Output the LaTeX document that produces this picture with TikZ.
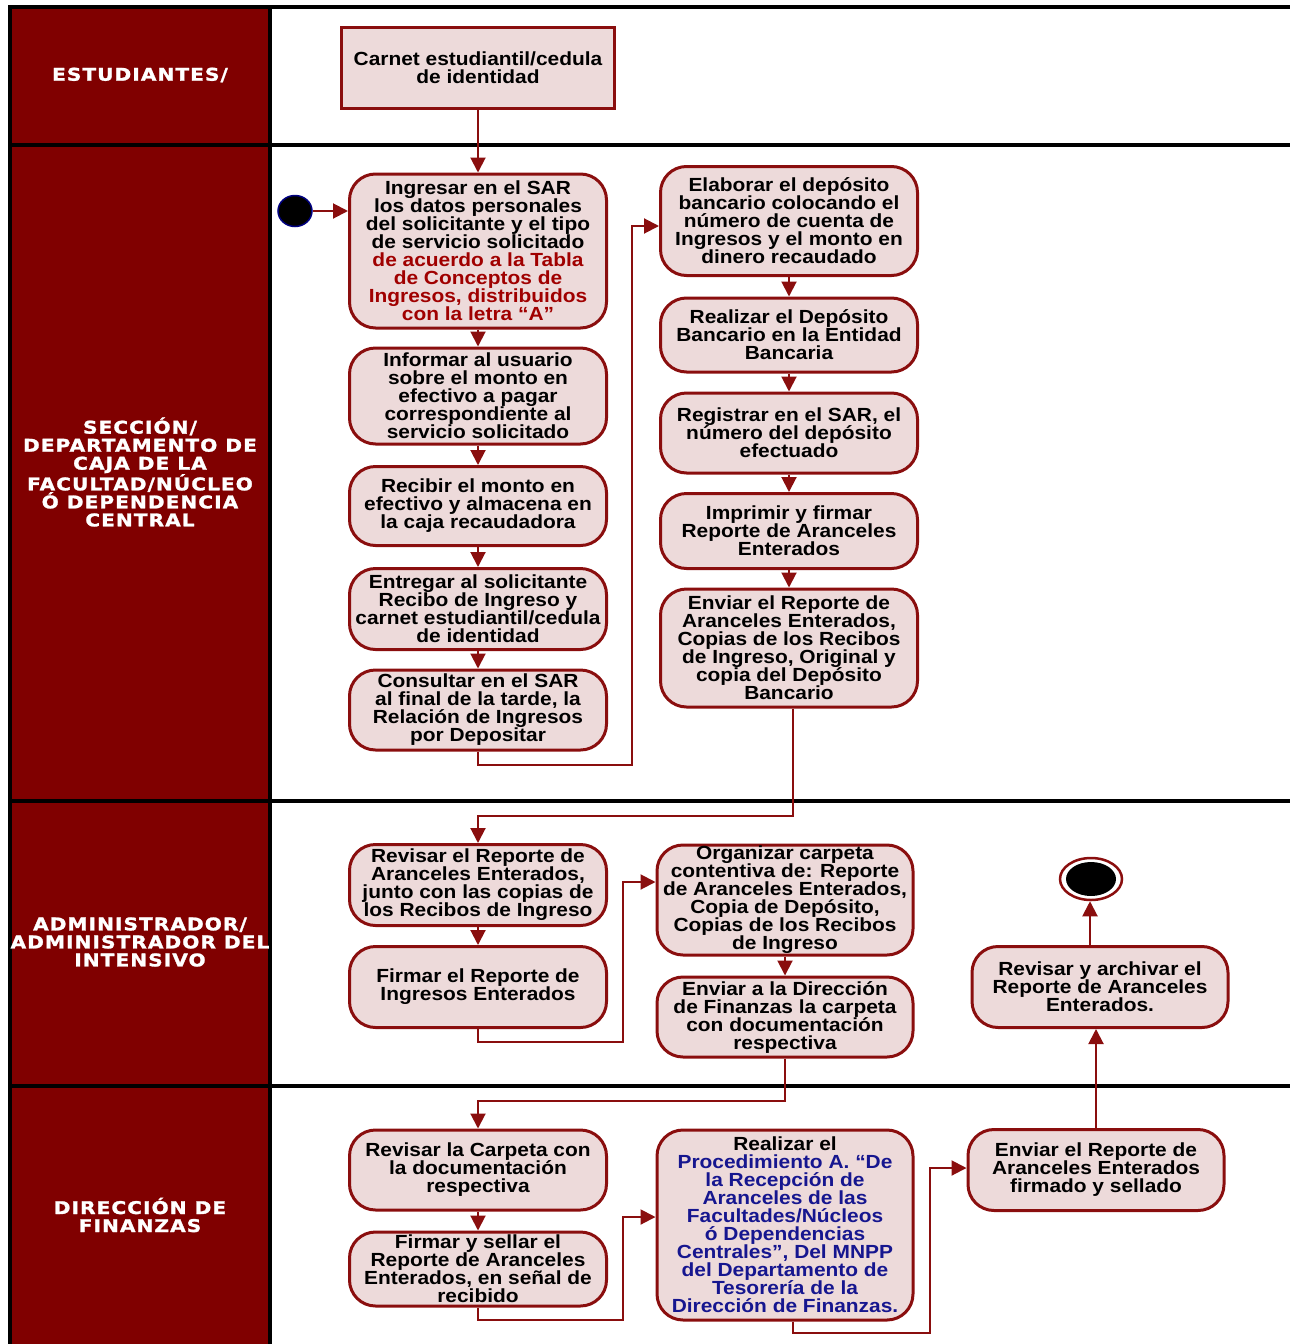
\documentclass[tikz,border=0pt]{standalone}
\usepackage{fontspec}
\setmainfont{Liberation Sans}[FakeStretch=1.1]
\newfontfamily\lanefont{DejaVu Sans}[LetterSpace=6,FakeStretch=1.15,FakeBold=1.5]
\usetikzlibrary{arrows.meta,calc,shapes.geometric}
\definecolor{lanered}{HTML}{800000}
\definecolor{boxred}{HTML}{8A0E0E}
\definecolor{boxfill}{HTML}{EDDADA}
\definecolor{txtred}{HTML}{A00000}
\definecolor{txtblue}{HTML}{16168F}
\definecolor{startblue}{HTML}{000080}
\begin{document}
\begin{tikzpicture}[x=1pt,y=-1pt,
  act/.style={draw=boxred, line width=3pt, fill=boxfill, rounded corners=26pt,
    align=center, inner sep=0pt, minimum width=257pt,
    font=\bfseries\fontsize{19}{18}\selectfont},
  objbox/.style={draw=boxred, line width=3pt, fill=boxfill,
    align=center, inner sep=0pt,
    font=\bfseries\fontsize{19}{18}\selectfont},
  lanelbl/.style={text=white, align=center, inner sep=0pt,
    font=\lanefont\bfseries\fontsize{17.5}{18}\selectfont},
  conn/.style={draw=boxred, line width=2pt, -{Triangle[width=15pt,length=15pt]}},
  frame/.style={draw=black, line width=3.5pt}
]
\useasboundingbox (0,0) rectangle (1290,1344);
% lanes
\fill[lanered] (10,7) rectangle (270,1344);
\draw[frame] (10,1344) -- (10,7) -- (1290,7);
\draw[frame] (270,7) -- (270,1344);
\draw[frame] (10,145) -- (1290,145);
\draw[frame] (10,801) -- (1290,801);
\draw[frame] (10,1086) -- (1290,1086);

\node[lanelbl] (l1) at (140,75) {ESTUDIANTES/};
\node[lanelbl] (l2) at (140,472) {SECCIÓN/\\DEPARTAMENTO DE\\CAJA DE LA\\FACULTAD/NÚCLEO\\Ó DEPENDENCIA\\CENTRAL};
\node[lanelbl] (l3) at (140,942) {ADMINISTRADOR/\\ADMINISTRADOR DEL\\INTENSIVO};
\node[lanelbl] (l4) at (140,1215) {DIRECCIÓN DE\\FINANZAS};

% student lane
\node[objbox, minimum width=273pt, minimum height=81pt] (obj) at (478,68)
  {Carnet estudiantil/cedula\\de identidad};

% caja lane
\node[ellipse, draw=startblue, line width=1.5pt, fill=black, minimum width=34pt, minimum height=31pt, inner sep=0pt] (start) at (295,211) {};
\node[act, minimum height=154pt] (n1) at (478,251)
  {Ingresar en el SAR\\los datos personales\\del solicitante y el tipo\\de servicio solicitado\\
   \textcolor{txtred}{de acuerdo a la Tabla}\\\textcolor{txtred}{de Conceptos de}\\
   \textcolor{txtred}{Ingresos, distribuidos}\\\textcolor{txtred}{con la letra “A”}};
\node[act, minimum height=96pt] (n2) at (478,396)
  {Informar al usuario\\sobre el monto en\\efectivo a pagar\\correspondiente al\\servicio solicitado};
\node[act, minimum height=79pt] (n3) at (478,506)
  {Recibir el monto en\\efectivo y almacena en\\la caja recaudadora};
\node[act, minimum height=81pt] (n4) at (478,609)
  {Entregar al solicitante\\Recibo de Ingreso y\\carnet estudiantil/cedula\\de identidad};
\node[act, minimum height=80pt] (n5) at (478,710)
  {Consultar en el SAR\\al final de la tarde, la\\Relación de Ingresos\\por Depositar};

\node[act, minimum height=109pt] (m1) at (789,221)
  {Elaborar el depósito\\bancario colocando el\\número de cuenta de\\Ingresos y el monto en\\dinero recaudado};
\node[act, minimum height=74pt] (m2) at (789,335)
  {Realizar el Depósito\\Bancario en la Entidad\\Bancaria};
\node[act, minimum height=80pt] (m3) at (789,433)
  {Registrar en el SAR, el\\número del depósito\\efectuado};
\node[act, minimum height=75pt] (m4) at (789,531)
  {Imprimir y firmar\\Reporte de Aranceles\\Enterados};
\node[act, minimum height=118pt] (m5) at (789,648)
  {Enviar el Reporte de\\Aranceles Enterados,\\Copias de los Recibos\\de Ingreso, Original y\\copia del Depósito\\Bancario};

% admin lane
\node[act, minimum height=81pt] (a1) at (478,885)
  {Revisar el Reporte de\\Aranceles Enterados,\\junto con las copias de\\los Recibos de Ingreso};
\node[act, minimum height=81pt] (a2) at (478,987)
  {Firmar el Reporte de\\Ingresos Enterados};
\node[act, minimum width=256pt, minimum height=110pt] (a3) at (785,900)
  {Organizar carpeta\\contentiva de: Reporte\\de Aranceles Enterados,\\Copia de Depósito,\\Copias de los Recibos\\de Ingreso};
\node[act, minimum width=256pt, minimum height=80pt] (a4) at (785,1017)
  {Enviar a la Dirección\\de Finanzas la carpeta\\con documentación\\respectiva};
\node[act, minimum width=256pt, minimum height=81pt] (a5) at (1100,987)
  {Revisar y archivar el\\Reporte de Aranceles\\Enterados.};
\node[ellipse, draw=boxred, line width=2.5pt, fill=white, minimum width=62pt, minimum height=42pt, inner sep=0pt] (endo) at (1091,879) {};
\node[ellipse, fill=black, minimum width=50pt, minimum height=34pt, inner sep=0pt] (endi) at (1091,879) {};

% finanzas lane
\node[act, minimum height=80pt] (f1) at (478,1170)
  {Revisar la Carpeta con\\la documentación\\respectiva};
\node[act, minimum height=74pt] (f2) at (478,1269)
  {Firmar y sellar el\\Reporte de Aranceles\\Enterados, en señal de\\recibido};
\node[act, minimum width=256pt, minimum height=190pt] (f3) at (785,1225)
  {Realizar el\\\textcolor{txtblue}{Procedimiento A. “De}\\\textcolor{txtblue}{la Recepción de}\\
   \textcolor{txtblue}{Aranceles de las}\\\textcolor{txtblue}{Facultades/Núcleos}\\
   \textcolor{txtblue}{ó Dependencias}\\\textcolor{txtblue}{Centrales”, Del MNPP}\\
   \textcolor{txtblue}{del Departamento de}\\\textcolor{txtblue}{Tesorería de la}\\
   \textcolor{txtblue}{Dirección de Finanzas.}};
\node[act, minimum width=256pt, minimum height=81pt] (f4) at (1096,1170)
  {Enviar el Reporte de\\Aranceles Enterados\\firmado y sellado};

% connector waypoints
\coordinate (w1) at (632,765);
\coordinate (w2) at (478,816);
\coordinate (w3) at (623,1042);
\coordinate (w4) at (478,1101);
\coordinate (w5) at (623,1320);
\coordinate (w6) at (930,1333);

% connectors
\draw[conn] (obj.south) -- (n1.north);
\draw[conn] (start.east) -- (n1.west |- start.east);
\draw[conn] (n1.south) -- (n2.north);
\draw[conn] (n2.south) -- (n3.north);
\draw[conn] (n3.south) -- (n4.north);
\draw[conn] (n4.south) -- (n5.north);
\draw[conn] (n5.south) |- (w1) |- ([yshift=-5pt]m1.west);
\draw[conn] (m1.south) -- (m2.north);
\draw[conn] (m2.south) -- (m3.north);
\draw[conn] (m3.south) -- (m4.north);
\draw[conn] (m4.south) -- (m5.north);
\draw[conn] ([xshift=4pt]m5.south) |- (w2) -- (a1.north);
\draw[conn] (a1.south) -- (a2.north);
\draw[conn] (a2.south) |- (w3) |- ([yshift=18pt]a3.west);
\draw[conn] (a3.south) -- (a4.north);
\draw[conn] (a4.south) |- (w4) -- (f1.north);
\draw[conn] (f1.south) -- (f2.north);
\draw[conn] (f2.south) |- (w5) |- ([yshift=8pt]f3.west);
\draw[conn] ([xshift=8pt]f3.south) |- (w6) |- ([yshift=2pt]f4.west);
\draw[conn] (f4.north) -- (f4.north |- a5.south);
\draw[conn] ([xshift=-10pt]a5.north) -- ([xshift=-10pt]a5.north |- endo.south);
\end{tikzpicture}
\end{document}
